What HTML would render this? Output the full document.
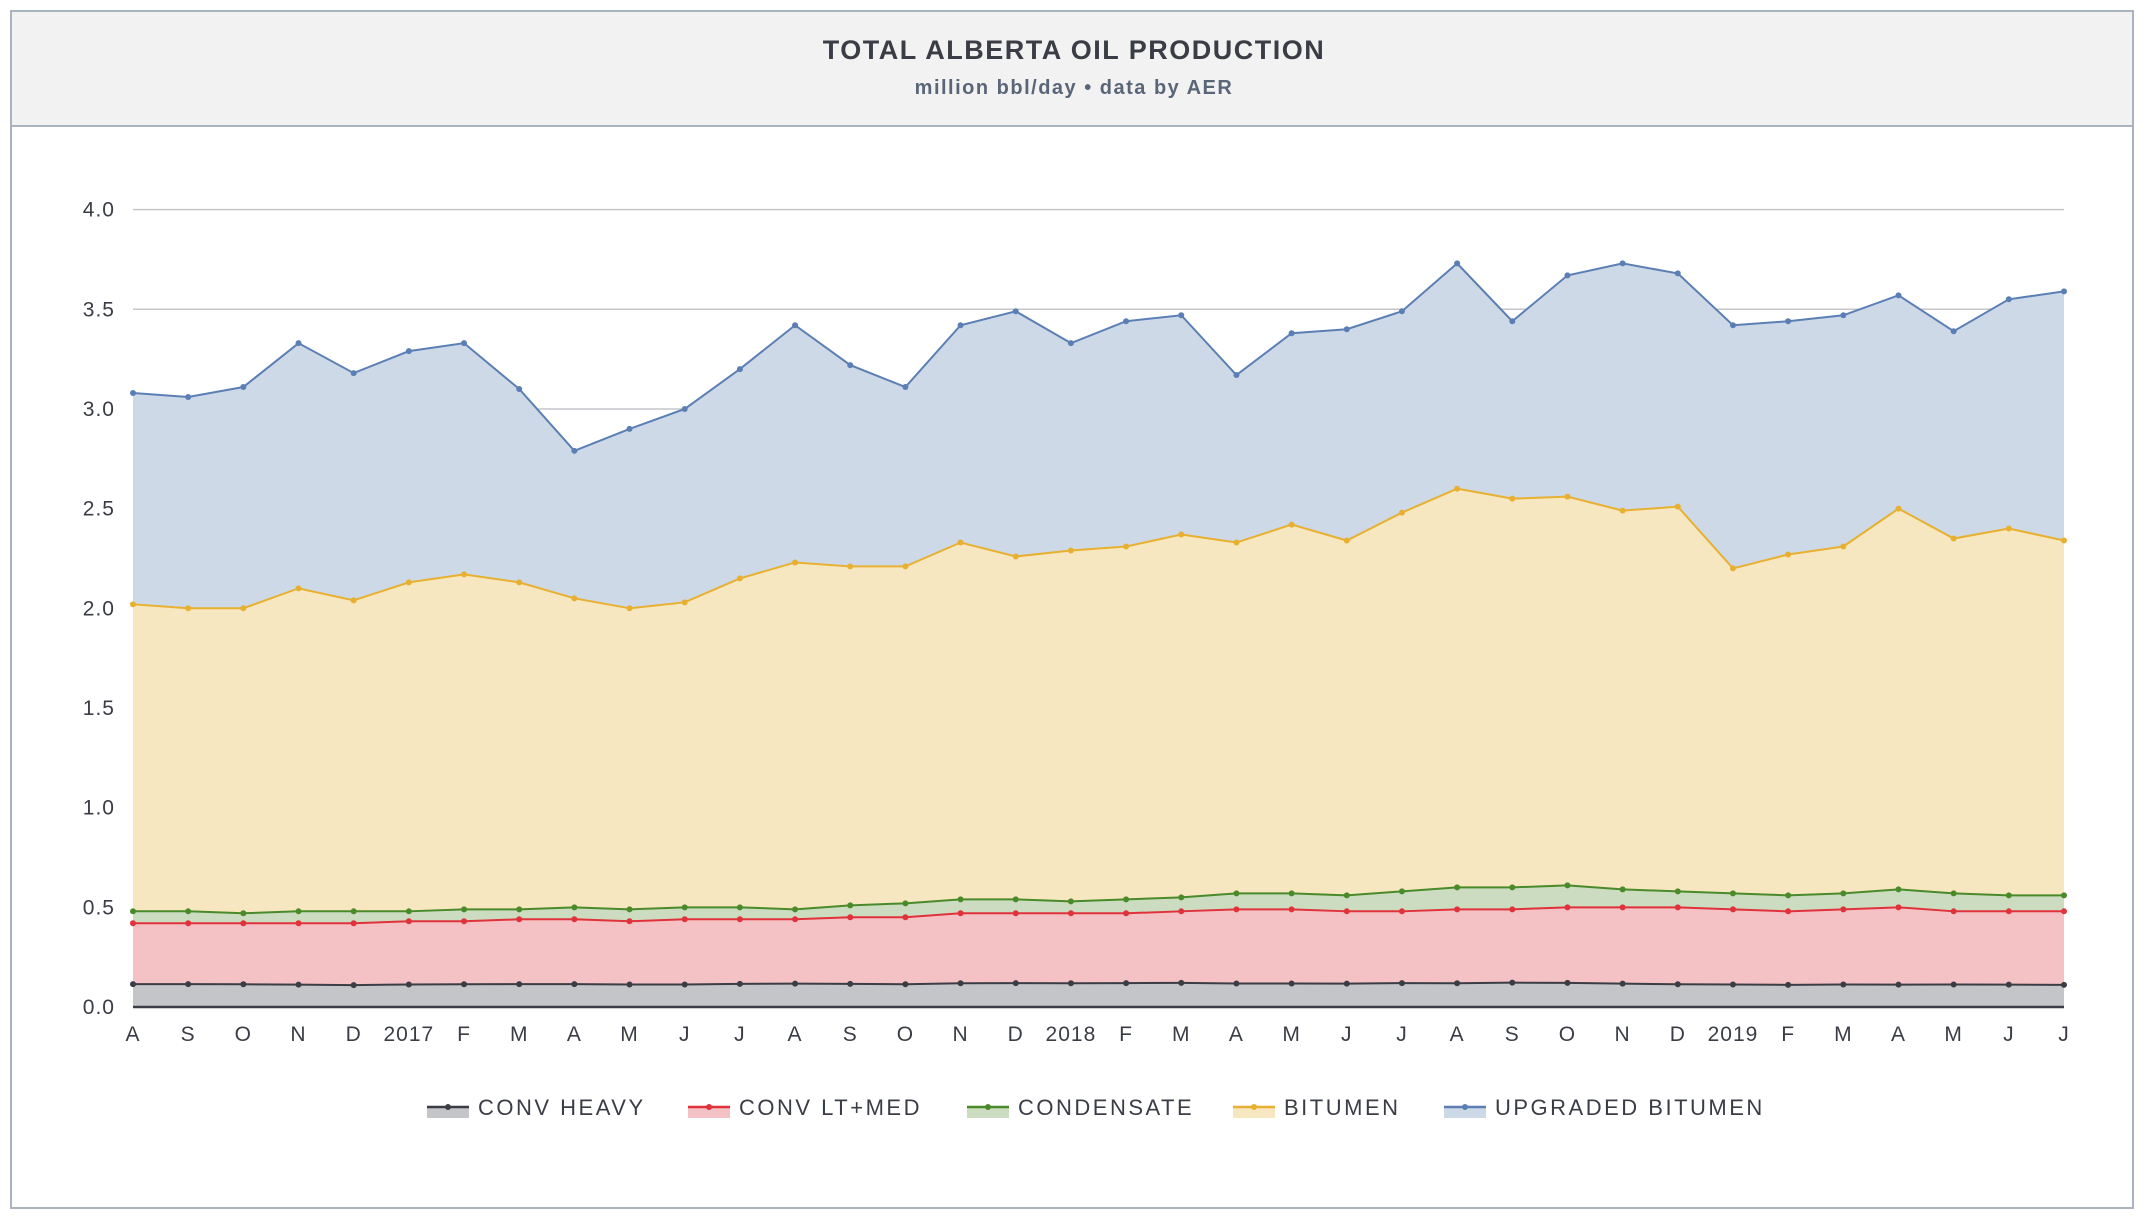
<!DOCTYPE html>
<html><head><meta charset="utf-8"><style>
html,body{margin:0;padding:0;background:#fff;}
body{width:2148px;height:1216px;overflow:hidden;font-family:"Liberation Sans",sans-serif;}
</style></head><body>
<svg id="chart" width="2148" height="1216" xmlns="http://www.w3.org/2000/svg">
<rect x="11" y="11" width="2122" height="1197" fill="#fff" stroke="#a9b4c0" stroke-width="2"/>
<rect x="12" y="12" width="2120" height="114" fill="#f2f2f2"/>
<line x1="11" y1="126" x2="2133" y2="126" stroke="#a9b4c0" stroke-width="2"/>
<text x="1074" y="59" text-anchor="middle" font-size="27" font-weight="bold" fill="#3a3d45" letter-spacing="1.5">TOTAL ALBERTA OIL PRODUCTION</text>
<text x="1074" y="94" text-anchor="middle" font-size="20" font-weight="bold" fill="#5a6678" letter-spacing="1.5">million bbl/day • data by AER</text>
<g id="grid"></g><g id="areas"></g><g id="lines"></g><g id="axes"></g><g id="legend"></g>
</svg>
<script>
const categories = ["A","S","O","N","D","2017","F","M","A","M","J","J","A","S","O","N","D","2018","F","M","A","M","J","J","A","S","O","N","D","2019","F","M","A","M","J","J"];
// cumulative (stacked) totals
const heavyTop = [0.115,0.115,0.114,0.112,0.110,0.113,0.114,0.115,0.115,0.113,0.113,0.116,0.117,0.116,0.114,0.119,0.120,0.119,0.120,0.121,0.118,0.118,0.117,0.120,0.119,0.122,0.121,0.117,0.114,0.113,0.111,0.113,0.112,0.113,0.112,0.111];
const ltMedTop = [0.42,0.42,0.42,0.42,0.42,0.43,0.43,0.44,0.44,0.43,0.44,0.44,0.44,0.45,0.45,0.47,0.47,0.47,0.47,0.48,0.49,0.49,0.48,0.48,0.49,0.49,0.50,0.50,0.50,0.49,0.48,0.49,0.50,0.48,0.48,0.48];
const condensateTop = [0.48,0.48,0.47,0.48,0.48,0.48,0.49,0.49,0.50,0.49,0.50,0.50,0.49,0.51,0.52,0.54,0.54,0.53,0.54,0.55,0.57,0.57,0.56,0.58,0.60,0.60,0.61,0.59,0.58,0.57,0.56,0.57,0.59,0.57,0.56,0.56];
const bitumenTop = [2.02,2.00,2.00,2.10,2.04,2.13,2.17,2.13,2.05,2.00,2.03,2.15,2.23,2.21,2.21,2.33,2.26,2.29,2.31,2.37,2.33,2.42,2.34,2.48,2.60,2.55,2.56,2.49,2.51,2.20,2.27,2.31,2.50,2.35,2.40,2.34];
const upgradedTop = [3.08,3.06,3.11,3.33,3.18,3.29,3.33,3.10,2.79,2.90,3.00,3.20,3.42,3.22,3.11,3.42,3.49,3.33,3.44,3.47,3.17,3.38,3.40,3.49,3.73,3.44,3.67,3.73,3.68,3.42,3.44,3.47,3.57,3.39,3.55,3.59];
const yTicks = ["0.0","0.5","1.0","1.5","2.0","2.5","3.0","3.5","4.0"];
const seriesNames = ["CONV HEAVY","CONV LT+MED","CONDENSATE","BITUMEN","UPGRADED BITUMEN"];

const NS="http://www.w3.org/2000/svg";
const X0=133,X1=2064,Y0=1007,Y4=209.6;
function xs(i){return X0+(X1-X0)*i/(categories.length-1);}
function ys(v){return Y0-(Y0-Y4)*v/4;}
function mk(tag,attrs,parent){const e=document.createElementNS(NS,tag);for(const k in attrs)e.setAttribute(k,attrs[k]);parent.appendChild(e);return e;}
const grid=document.getElementById('grid'),areas=document.getElementById('areas'),lines=document.getElementById('lines'),axes=document.getElementById('axes'),legend=document.getElementById('legend');

yTicks.forEach(function(t){
  const v=parseFloat(t),y=ys(v);
  const gl=mk('line',{x1:X0,x2:X1,y1:y,y2:y,stroke:'#c4c6ca','stroke-width':1.5},grid);
  
  
  const tl=mk('text',{x:115,y:y+7,'text-anchor':'end','font-size':21,fill:'#3a3d45','letter-spacing':'1'},axes);
  tl.textContent=t;
  
  
});
categories.forEach(function(c,i){
  const t=mk('text',{x:xs(i),y:1041,'text-anchor':'middle','font-size':21,fill:'#3a3d45','letter-spacing':'1'},axes);
  t.textContent=c;
  
  
});

const stacks=[heavyTop,ltMedTop,condensateTop,bitumenTop,upgradedTop];
const lineCols=['#3a3d45','#e0323a','#4a8a2a','#e8b030','#5b7fb5'];
const fillCols=['#c4c5c8','#f4c1c4','#cbdcc0','#f7e7c0','#cdd9e7'];
const keys=['conv-heavy','conv-lt-med','condensate','bitumen','upgraded-bitumen'];
stacks.forEach(function(arr,s){
  const lower=s===0?arr.map(function(){return 0;}):stacks[s-1];
  let d='';
  arr.forEach(function(v,i){d+=(i?'L':'M')+xs(i)+','+ys(v);});
  for(let i=arr.length-1;i>=0;i--)d+='L'+xs(i)+','+ys(lower[i]);
  const a=mk('path',{d:d+'Z',fill:fillCols[s]},areas);
  
  
  let ld='';
  arr.forEach(function(v,i){ld+=(i?'L':'M')+xs(i)+','+ys(v);});
  const l=mk('path',{d:ld,fill:'none',stroke:lineCols[s],'stroke-width':2},lines);
  
  
  arr.forEach(function(v,i){
    const p=mk('circle',{cx:xs(i),cy:ys(v),r:3,fill:lineCols[s]},lines);
    
    
  });
});
const base=mk('line',{x1:X0,x2:X1,y1:Y0,y2:Y0,stroke:'#3a3d45','stroke-width':2.5},axes);



const legX=[427,688,967,1233,1444];
seriesNames.forEach(function(n,s){
  const g=mk('g',{},legend);
  
  
  const x=legX[s];
  mk('rect',{x:x,y:1107,width:42,height:11,fill:fillCols[s]},g);
  mk('line',{x1:x,x2:x+42,y1:1107,y2:1107,stroke:lineCols[s],'stroke-width':2.5},g);
  mk('circle',{cx:x+21,cy:1107,r:3,fill:lineCols[s]},g);
  const t=mk('text',{x:x+51,y:1115,'font-size':22,fill:'#3a3d45','letter-spacing':'2.5'},g);
  t.textContent=n;
});
</script>
</body></html>
